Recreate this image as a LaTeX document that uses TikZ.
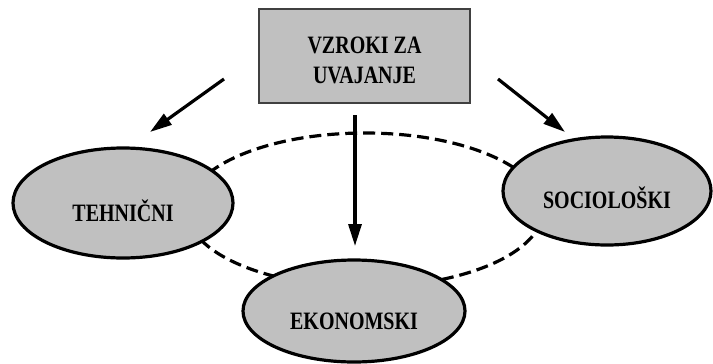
\documentclass[tikz,border=0pt]{standalone}
\usepackage{fontspec}
\setmainfont{Liberation Serif}
\usetikzlibrary{shapes.geometric,arrows.meta}
\definecolor{boxgray}{HTML}{C0C0C0}
\newcommand{\lowtxt}[2]{\raisebox{-#1}[\height][0pt]{\scalebox{1}[1.25]{#2}}}
\tikzset{
  oval/.style={ellipse, draw=black, line width=3.2bp, fill=boxgray, inner sep=0pt,
    font=\fontsize{20bp}{24bp}\selectfont\bfseries},
  causebox/.style={rectangle, draw=black!75, line width=1.4bp, fill=boxgray, inner sep=0pt,
    minimum width=211bp, minimum height=94bp, align=center,
    font=\fontsize{20bp}{30bp}\selectfont\bfseries},
  ring/.style={ellipse, draw=black, line width=3.2bp, dash pattern=on 12bp off 6bp, inner sep=0pt},
  arr/.style={line width=3.2bp, -{Triangle[length=22bp,width=13bp]}}
}
\begin{document}
\begin{tikzpicture}[x=1bp,y=-1bp]
\useasboundingbox (0,0) rectangle (713,363);
\node[ring, minimum width=356bp, minimum height=154bp] (ring) at (365,210) {};
\node[causebox] (cause) at (364.5,56) {\lowtxt{4bp}{VZROKI ZA}\\\lowtxt{4bp}{UVAJANJE}};
\coordinate (l0) at (224,79);
\coordinate (l1) at (150,132);
\coordinate (r0) at (498,79);
\coordinate (r1) at (565,132);
\coordinate (m0) at (355,115);
\coordinate (m1) at (355,246);
\draw[arr] (l0) -- (l1);
\draw[arr] (r0) -- (r1);
\draw[arr] (m0) -- (m1);
\node[oval, minimum width=220bp, minimum height=110bp] (teh) at (123,203) {\lowtxt{8bp}{TEHNIČNI}};
\node[oval, minimum width=208bp, minimum height=108bp] (soc) at (607,191) {\lowtxt{7bp}{SOCIOLOŠKI}};
\node[oval, minimum width=222bp, minimum height=102bp] (eko) at (354,311) {\lowtxt{10bp}{EKONOMSKI}};
\end{tikzpicture}
\end{document}
